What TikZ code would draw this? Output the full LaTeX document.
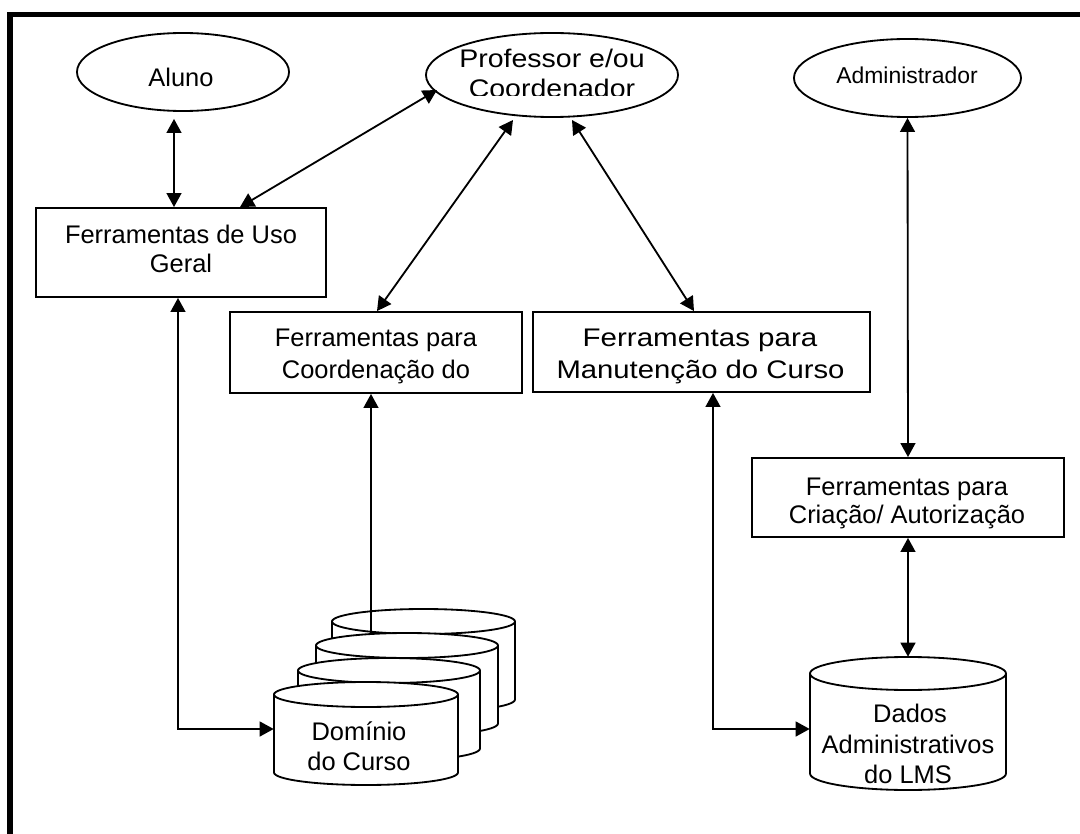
\documentclass[tikz,border=0pt]{standalone}
\usepackage{graphicx}
\usepackage{fontspec}
\setmainfont{Liberation Sans}
\usetikzlibrary{arrows.meta,shapes.geometric}
\newcommand{\drawcyl}[5]{%
  \path[cyl] (#1,#2+#5) -- (#1,#2+#5+#4)
    arc[start angle=180,end angle=360,x radius=#3*0.0125cm,y radius=#5*0.025cm]
    -- (#1+#3,#2+#5)
    arc[start angle=0,end angle=180,x radius=#3*0.0125cm,y radius=#5*0.025cm] -- cycle;
  \draw[ln] (#1,#2+#5) arc[start angle=180,end angle=360,x radius=#3*0.0125cm,y radius=#5*0.025cm];
}
\newcommand{\wide}[2]{\scalebox{#1}[1]{#2}}
\begin{document}
\begin{tikzpicture}[x=0.025cm,y=-0.025cm,
  ln/.style={line width=1.3pt},
  box/.style={draw,ln,rectangle,inner sep=0pt,fill=white},
  oval/.style={draw,ln,ellipse,inner sep=0pt},
  ghost/.style={draw=none,rectangle,inner sep=0pt},
  cyl/.style={ln,fill=white,draw},
  lbl/.style={anchor=base,inner sep=0pt,font=\fontsize{18.1}{21}\selectfont},
  lblsmall/.style={anchor=base,inner sep=0pt,font=\fontsize{16.3}{19}\selectfont},
  tip/.tip={Triangle[length=10pt,width=10.6pt]},
  arr/.style={ln,tip-tip},
  arrone/.style={ln,-tip}
]
\useasboundingbox (0,0) rectangle (1080,834);
\fill[white] (0,0) rectangle (1080,834);
% frame (only left and top edges visible)
\draw[line width=3.9pt] (10,900) -- (10,14.5) -- (1100,14.5);

% actors
\node[oval,minimum width=5.3cm,minimum height=1.95cm] (aluno) at (183,72) {};
\node[oval,minimum width=6.3cm,minimum height=2.1cm] (prof) at (552,75) {};
\node[oval,minimum width=5.675cm,minimum height=1.95cm] (admin) at (907.5,78) {};

% tool boxes
\node[box,minimum width=7.25cm,minimum height=2.225cm] (geral) at (181,252.5) {};
\node[box,minimum width=7.3cm,minimum height=2.025cm] (coord) at (376,352.5) {};
\node[box,minimum width=8.425cm,minimum height=2.0cm] (manut) at (701.5,352) {};
\node[box,minimum width=7.8cm,minimum height=1.975cm] (criacao) at (908,497.5) {};

% data stores (outline areas)
\node[ghost,minimum width=4.6cm,minimum height=2.575cm] (dominio) at (366,733.5) {};
\node[ghost,minimum width=4.9cm,minimum height=3.325cm] (dados) at (908,723.5) {};
\coordinate (stacktop) at (371,645);

% stacked cylinders (back to front)
\drawcyl{332}{609}{183}{78}{12.5}
\draw[arrone] (stacktop) -- (stacktop |- coord.south);
\drawcyl{316}{633}{182}{78}{12.5}
\drawcyl{298}{658}{182}{78}{12.5}
\drawcyl{274}{682}{184}{78}{12.5}
\drawcyl{810}{657}{196}{100}{16.5}

% labels
\node[lbl] at (181,87) {Aluno};
\begin{scope}
  \clip (420,25) rectangle (690,96);
  \node[lbl] at (552,68) {\wide{1.12}{Professor e/ou}};
  \node[lbl] at (552,97.5) {\wide{1.12}{Coordenador}};
\end{scope}
\node[lblsmall] at (907,84) {Administrador};
\node[lbl] at (181,243) {Ferramentas de Uso};
\node[lbl] at (181,273) {Geral};
\node[lbl] at (376,347) {Ferramentas para};
\node[lbl] at (376,378) {Coordenação do};
\node[lbl] at (700,347) {\wide{1.16}{Ferramentas para}};
\node[lbl] at (700.5,378) {\wide{1.15}{Manutenção do Curso}};
\node[lbl] at (907,495) {Ferramentas para};
\node[lbl] at (907,523) {Criação/ Autorização};
\node[lbl] at (359,740) {Domínio};
\node[lbl] at (359,770) {do Curso};
\node[lbl] at (910,722) {Dados};
\node[lbl] at (908,753) {Administrativos};
\node[lbl] at (908,783) {do LMS};

% connectors
\draw[arr] ([shift={(-9,7)}]aluno.south) -- ([shift={(-7,0)}]geral.north);
\draw[arr] ([shift={(-115,15)}]prof.center) -- ([shift={(59,0)}]geral.north);
\draw[arr] ([shift={(-39,45)}]prof.center) -- ([shift={(1,0)}]coord.north);
\draw[arr] ([shift={(20,45)}]prof.center) -- ([shift={(-7.5,0)}]manut.north);
\draw[arr] (admin.south) -- (criacao.north);
\draw[arr] (criacao.south) -- (dados.north);
\draw[arr] ([shift={(-3,0)}]geral.south) |- ([shift={(0,-4.5)}]dominio.west);
\draw[arr] ([shift={(11.5,0)}]manut.south) |- ([shift={(0,5.5)}]dados.west);
\end{tikzpicture}
\end{document}
